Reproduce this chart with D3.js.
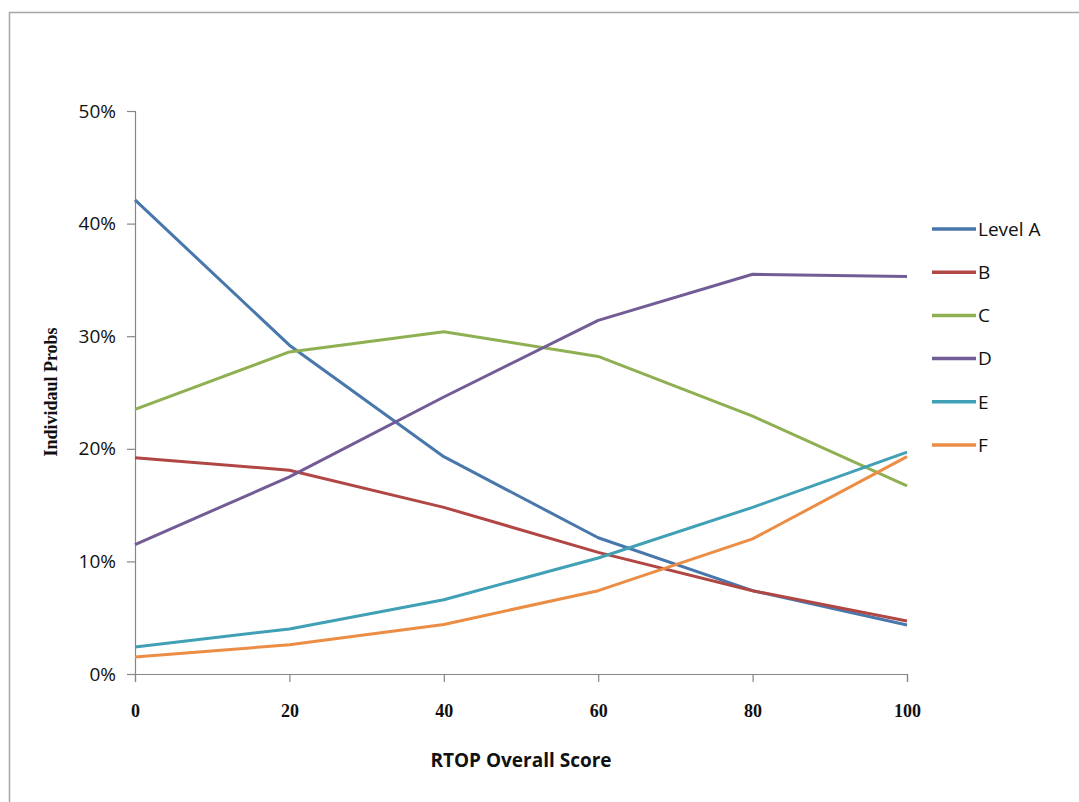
<!DOCTYPE html>
<html><head><meta charset="utf-8">
<script src="https://cdn.jsdelivr.net/npm/d3@7/dist/d3.min.js"></script>
<style>body{margin:0;background:#fff}svg{display:block}</style>
</head><body>
<svg id="c" width="1079" height="802"></svg>
<script>
const scores = [0, 20, 40, 60, 80, 100];
const seriesNames = ["Level A", "B", "C", "D", "E", "F"];
const levelA = [42.1, 29.2, 19.3, 12.1, 7.4, 4.35];
const levelB = [19.2, 18.1, 14.8, 10.8, 7.4, 4.7];
const levelC = [23.5, 28.6, 30.4, 28.2, 22.9, 16.7];
const levelD = [11.5, 17.5, 24.6, 31.4, 35.5, 35.3];
const levelE = [2.4, 4.0, 6.6, 10.3, 14.8, 19.7];
const levelF = [1.5, 2.6, 4.4, 7.4, 12.0, 19.3];
const yTicks = [0, 10, 20, 30, 40, 50];
const xTicks = [0, 20, 40, 60, 80, 100];
const colors = ["#4877AC", "#B04744", "#8FB052", "#725C95", "#40A0B5", "#EB8D45"];
const allSeries = [levelA, levelB, levelC, levelD, levelE, levelF];
const sansNarrow = "'Liberation Sans Narrow', 'Open Sans', sans-serif";

const svg = d3.select("#c");
svg.append("rect").attr("x", 9.5).attr("y", 12.5).attr("width", 1200).attr("height", 900)
  .attr("fill", "none").attr("stroke", "#a6a6a6").attr("stroke-width", 1.5);

const x = d3.scaleLinear().domain([0, 100]).range([135, 907]);
const y = d3.scaleLinear().domain([0, 50]).range([674, 111]);

const yAxis = svg.append("g").attr("transform", "translate(135,0)")
  .call(d3.axisLeft(y).tickValues(yTicks).tickSize(8).tickPadding(11).tickFormat(d => d + "%"));
const xAxis = svg.append("g").attr("transform", "translate(0,674)")
  .call(d3.axisBottom(x).tickValues(xTicks).tickSize(8).tickPadding(22));
[yAxis, xAxis].forEach(a => {
  a.select(".domain").attr("stroke", "#868686").attr("stroke-width", 1.2);
  a.selectAll(".tick line").attr("stroke", "#868686").attr("stroke-width", 1.2);
});
yAxis.selectAll("text").attr("font-family", sansNarrow).attr("font-size", 19).attr("fill", "#111");
xAxis.selectAll("text").attr("font-family", "'Liberation Serif', serif").attr("font-weight", "bold").attr("font-size", 18).attr("fill", "#111");

const line = d3.line().x((d, i) => x(scores[i])).y(d => y(d));
allSeries.forEach((s, k) => {
  svg.append("path").datum(s).attr("d", line).attr("fill", "none")
    .attr("stroke", colors[k]).attr("stroke-width", 3).attr("stroke-linejoin", "round");
});

const legY = d3.scalePoint().domain(seriesNames).range([229, 445]);
seriesNames.forEach((n, k) => {
  svg.append("line").attr("x1", 932).attr("x2", 976).attr("y1", legY(n)).attr("y2", legY(n))
    .attr("stroke", colors[k]).attr("stroke-width", 3.5);
  svg.append("text").attr("x", 978).attr("y", legY(n)).attr("dy", "0.36em")
    .attr("font-family", sansNarrow).attr("font-size", 19).attr("fill", "#111").text(n);
});

svg.append("text").attr("transform", "translate(57,392) rotate(-90)").attr("text-anchor", "middle")
  .attr("font-family", "'Liberation Serif', serif").attr("font-weight", "bold").attr("font-size", 18)
  .attr("fill", "#111").text("Individaul Probs");
svg.append("text").attr("x", 521).attr("y", 767).attr("text-anchor", "middle")
  .attr("font-family", sansNarrow).attr("font-weight", "bold").attr("font-size", 19)
  .attr("fill", "#111").text("RTOP Overall Score");
</script>
</body></html>
